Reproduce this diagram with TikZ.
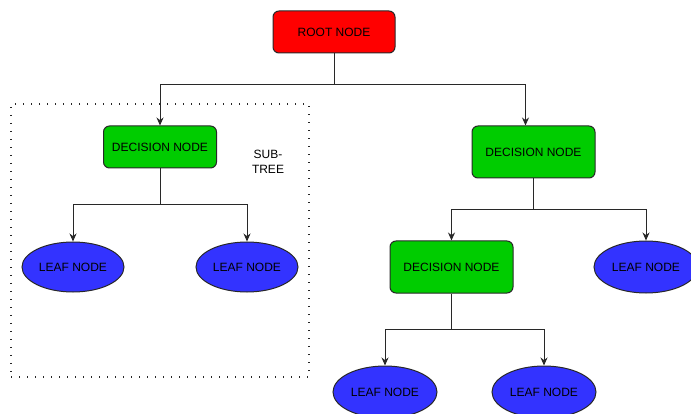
\documentclass[tikz,border=0pt]{standalone}
\usepackage{fontspec}
\setmainfont{Liberation Sans}
\usetikzlibrary{arrows.meta}
\usetikzlibrary{shapes}
\usepackage{xcolor}
\definecolor{rootred}{RGB}{255,0,0}
\definecolor{decgreen}{RGB}{0,204,0}
\definecolor{leafblue}{RGB}{51,51,255}
\definecolor{edgegray}{RGB}{40,40,40}

\begin{document}
\begin{tikzpicture}[x=1pt,y=-1pt]
  \tikzstyle{every node}=[align=center, font=\fontsize{12}{15}\selectfont, inner sep=0pt]
  \tikzstyle{rootbox}=[draw=edgegray, fill=rootred, rectangle, rounded corners=6pt, line width=1pt, minimum width=122pt, minimum height=42pt]
  \tikzstyle{decbox}=[draw=edgegray, fill=decgreen, rectangle, rounded corners=6pt, line width=1pt, minimum width=123pt, minimum height=52pt]
  \tikzstyle{leafnode}=[draw=edgegray, fill=leafblue, ellipse, line width=1pt, minimum width=104pt, minimum height=52pt]
  \tikzstyle{subtreebox}=[draw=black!85, rectangle, line width=1.3pt, dash pattern=on 1.3pt off 6.7pt, minimum width=298pt, minimum height=273pt]
  \tikzstyle{link}=[-{Stealth[length=8pt,width=7pt]}, draw=edgegray, line width=1pt]
  \useasboundingbox (0,0) rectangle (691,414);
  % \draw [step=50,blue, very thin] (0,0) grid (691,414);
  \node [subtreebox] (subtree) at (160,240.5) {};
  \node [] (subtreelabel) at (268,162) {SUB-\\TREE};

  \node [rootbox] (root) at (334,32) {ROOT NODE};
  \node [decbox, minimum width=113pt, minimum height=42pt] (dec1) at (160,147) {DECISION NODE};
  \node [decbox] (dec2) at (533.5,152) {DECISION NODE};
  \node [decbox] (dec3) at (451.5,267) {DECISION NODE};
  \node [leafnode, minimum width=102pt, minimum height=50pt] (leaf1) at (73,267) {LEAF NODE};
  \node [leafnode, minimum width=102pt, minimum height=50pt] (leaf2) at (247,267) {LEAF NODE};
  \node [leafnode] (leaf3) at (646,267) {LEAF NODE};
  \node [leafnode] (leaf4) at (385,392) {LEAF NODE};
  \node [leafnode] (leaf5) at (544,392) {LEAF NODE};

  \draw [link] (root.south) -- ++(0,31) -| (dec1.north);
  \draw [link] (root.south) -- ++(0,31) -| ([xshift=-8pt]dec2.north);
  \draw [link] (dec1.south) -- ++(0,36) -| (leaf1.north);
  \draw [link] (dec1.south) -- ++(0,36) -| (leaf2.north);
  \draw [link] (dec2.south) -- ++(0,31) -| (dec3.north);
  \draw [link] (dec2.south) -- ++(0,31) -| (leaf3.north);
  \draw [link] (dec3.south) -- ++(0,36) -| (leaf4.north);
  \draw [link] (dec3.south) -- ++(0,36) -| (leaf5.north);
\end{tikzpicture}
\end{document}
